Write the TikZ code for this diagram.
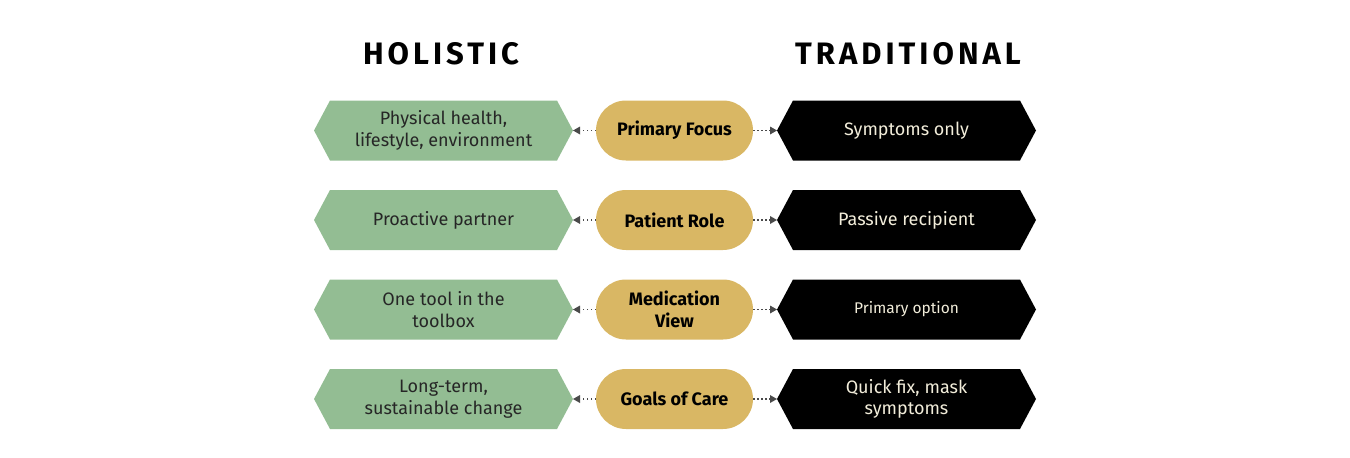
\documentclass[tikz,border=0pt]{standalone}
\usepackage{fontspec}
\setmainfont{Fira Sans}
\newfontfamily\headfont[LetterSpace=13]{Fira Sans Bold}
\usetikzlibrary{arrows.meta,calc}
\definecolor{hgreen}{HTML}{93BD93}
\definecolor{hgold}{HTML}{D9B764}
\definecolor{hcream}{HTML}{F2EDDA}
\definecolor{harrow}{HTML}{4A4A4A}
\tikzset{
  hexbox/.style={minimum width=259pt,minimum height=60pt,inner sep=0pt,outer sep=0pt,align=center,font=\fontsize{18}{21.5}\selectfont},
  greenbox/.style={hexbox,text=black!85},
  blackbox/.style={hexbox,text=hcream},
  pill/.style={fill=hgold,rounded corners=30pt,minimum width=157pt,minimum height=60pt,inner sep=0pt,outer sep=0pt,align=center,font=\bfseries\fontsize{18}{21.5}\selectfont},
  link/.style={draw=harrow,line width=1.5pt,dash pattern=on 1.5pt off 2.5pt,-{Triangle[length=7pt,width=8pt,line width=0pt]}},
  header/.style={font=\headfont\fontsize{31}{31}\selectfont,inner sep=0pt}
}
\newcommand{\hexpath}[2]{%
  \fill[#2] (#1.west) -- ($(#1.north west)+(16pt,0)$) -- ($(#1.north east)+(-16pt,0)$) -- (#1.east) -- ($(#1.south east)+(-16pt,0)$) -- ($(#1.south west)+(16pt,0)$) -- cycle;}
\begin{document}
\begin{tikzpicture}[x=1pt,y=-1pt]
\useasboundingbox (0,0) rectangle (1350,458);
\node[header] (hh) at (441,54) {HOLISTIC};
\node[header] (ht) at (908,54) {TRADITIONAL};
\foreach \i/\y/\g/\c/\b/\fs in {1/130.5/{Physical health,\\lifestyle, environment}/{Primary Focus}/{Symptoms only}/18,
  2/220/{Proactive partner}/{Patient Role}/{Passive recipient}/18,
  3/309.5/{One tool in the\\toolbox}/{Medication\\View}/{Primary option}/15.5,
  4/399/{Long-term,\\sustainable change}/{Goals of Care}/{Quick fix, mask\\symptoms}/18}{
  \node[greenbox] (g\i) at (443.5,\y) {};
  \hexpath{g\i}{hgreen}
  \node[greenbox] at (g\i) {\g};
  \node[blackbox] (b\i) at (906.5,\y) {};
  \hexpath{b\i}{black}
  \node[blackbox,font=\fontsize{\fs}{21.5}\selectfont] at (b\i) {\b};
  \node[pill] (c\i) at (674.5,\y) {\c};
  \draw[link] (c\i.west) -- (g\i.east);
  \draw[link] (c\i.east) -- (b\i.west);
}
\end{tikzpicture}
\end{document}
